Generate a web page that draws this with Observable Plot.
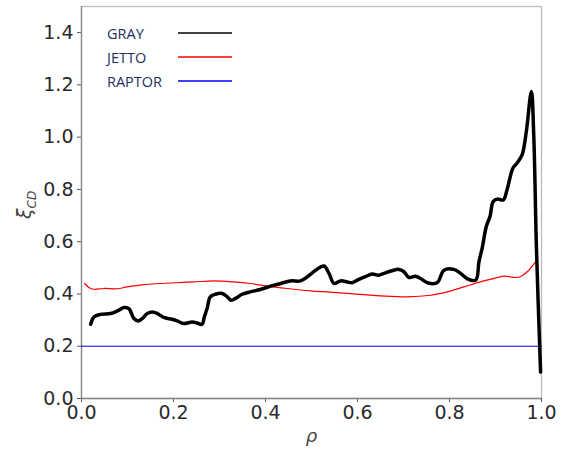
<!DOCTYPE html>
<html><head><meta charset="utf-8">
<script src="https://cdn.jsdelivr.net/npm/d3@7"></script>
<script src="https://cdn.jsdelivr.net/npm/@observablehq/plot@0.6"></script>
<style>
body{margin:0;background:#fff;}
#wrap{position:relative;width:575px;height:449px;}
#legend{position:absolute;left:107px;top:21px;font-family:"Open Sans",sans-serif;font-size:14.5px;color:#1c2f5c;}
.item{display:flex;align-items:center;height:24px;}
.item span{width:71px;}
</style>
</head><body>
<div id="wrap"><div id="legend"></div></div>
<script>
const seriesNames = ["GRAY","JETTO","RAPTOR"];
const seriesColors = ["#000000","#ff0000","#0000ff"];
const xTicks = [0,0.2,0.4,0.6,0.8,1.0];
const yTicks = [0,0.2,0.4,0.6,0.8,1.0,1.2,1.4];

const grayRho = [0.020,0.027,0.041,0.063,0.078,0.092,0.103,0.114,0.123,0.132,0.143,0.154,0.165,0.179,0.197,0.208,0.222,0.241,0.251,0.262,0.267,0.273,0.280,0.291,0.306,0.317,0.325,0.335,0.349,0.367,0.389,0.411,0.433,0.454,0.476,0.491,0.500,0.509,0.527,0.538,0.549,0.563,0.578,0.588,0.603,0.617,0.632,0.646,0.661,0.675,0.690,0.701,0.712,0.726,0.737,0.752,0.773,0.788,0.809,0.824,0.838,0.857,0.864,0.871,0.880,0.888,0.895,0.904,0.917,0.925,0.938,0.947,0.958,0.967,0.978,0.983,0.989,0.998];
const grayXi  = [0.284,0.312,0.322,0.325,0.335,0.348,0.344,0.306,0.297,0.306,0.325,0.331,0.325,0.310,0.303,0.297,0.287,0.293,0.289,0.284,0.312,0.344,0.389,0.399,0.402,0.389,0.376,0.383,0.399,0.408,0.417,0.430,0.440,0.450,0.450,0.466,0.478,0.491,0.507,0.479,0.440,0.450,0.446,0.443,0.456,0.466,0.476,0.472,0.481,0.489,0.494,0.485,0.463,0.468,0.459,0.443,0.443,0.491,0.494,0.479,0.459,0.453,0.523,0.575,0.658,0.696,0.754,0.763,0.760,0.798,0.882,0.901,0.933,1.022,1.175,1.016,0.576,0.101];

const jettoRho = [0.007,0.016,0.027,0.048,0.078,0.099,0.135,0.172,0.208,0.244,0.288,0.331,0.367,0.404,0.447,0.498,0.540,0.578,0.650,0.708,0.759,0.795,0.831,0.867,0.896,0.918,0.943,0.954,0.969,0.987];
const jettoXi  = [0.440,0.425,0.418,0.421,0.420,0.427,0.436,0.440,0.443,0.446,0.450,0.446,0.440,0.430,0.421,0.412,0.407,0.402,0.393,0.389,0.395,0.408,0.427,0.446,0.459,0.468,0.463,0.466,0.485,0.523];

const raptorRho = [0.0,1.0];
const raptorXi = [0.2,0.2];

const gray = grayRho.map((x,i)=>({x,y:grayXi[i]}));
const jetto = jettoRho.map((x,i)=>({x,y:jettoXi[i]}));
const raptor = raptorRho.map((x,i)=>({x,y:raptorXi[i]}));

const chart = Plot.plot({
  width:575, height:449,
  marginLeft:81, marginRight:34, marginTop:6, marginBottom:51,
  style:{fontFamily:"DejaVu Sans, sans-serif", background:"#fff", overflow:"visible"},
  x:{domain:[0,1], ticks:xTicks, tickFormat:d3.format(".1f"), tickSize:4, tickPadding:2, label:null},
  y:{domain:[0,1.5], ticks:yTicks, tickFormat:d3.format(".1f"), tickSize:4, tickPadding:4, label:null},
  marks:[
    Plot.frame({stroke:"#bbbbbb", strokeWidth:1.3}),
    Plot.axisX({ticks:xTicks, tickFormat:d3.format(".1f"), tickSize:4, fontSize:19, fill:"#2a2a2a", stroke:"#555", tickPadding:3, label:null}),
    Plot.axisY({ticks:yTicks, tickFormat:d3.format(".1f"), tickSize:4, fontSize:19, fill:"#2a2a2a", stroke:"#555", tickPadding:4, label:null}),
    Plot.axisX({ticks:[], label:"ρ", labelAnchor:"center", labelArrow:"none", labelOffset:43, fontSize:18, fill:"#444", fontStyle:"italic", dx:-5}),
    Plot.ruleX([0], {stroke:"#888", strokeWidth:1.3}),
    Plot.ruleY([0], {stroke:"#888", strokeWidth:1.3}),
    Plot.line(raptor, {x:"x", y:"y", stroke:seriesColors[2], strokeWidth:1}),
    Plot.line(jetto, {x:"x", y:"y", stroke:seriesColors[1], strokeWidth:1.2, curve:"catmull-rom"}),
    Plot.line(gray, {x:"x", y:"y", stroke:seriesColors[0], strokeWidth:3.5, strokeLinejoin:"round", curve:"catmull-rom"})
  ]
});
const wrap = document.getElementById("wrap");
wrap.insertBefore(chart, wrap.firstChild);

// y label
const svg = d3.select(chart);
svg.append("text")
  .attr("transform","translate(31,205) rotate(-90)")
  .attr("text-anchor","middle")
  .attr("font-family","DejaVu Sans, sans-serif")
  .attr("fill","#444")
  .attr("font-size",19)
  .html('<tspan font-style="italic">ξ</tspan><tspan font-size="12" dy="5" font-style="italic">CD</tspan>');

const legend = document.getElementById("legend");
seriesNames.forEach((n,i)=>{
  const d = document.createElement("div");
  d.className="item";
  d.innerHTML = `<span>${n}</span><svg width="54" height="4"><line x1="0" x2="54" y1="2" y2="2" stroke="${seriesColors[i]}" stroke-width="1.5"/></svg>`;
  legend.appendChild(d);
});
</script>
</body></html>
